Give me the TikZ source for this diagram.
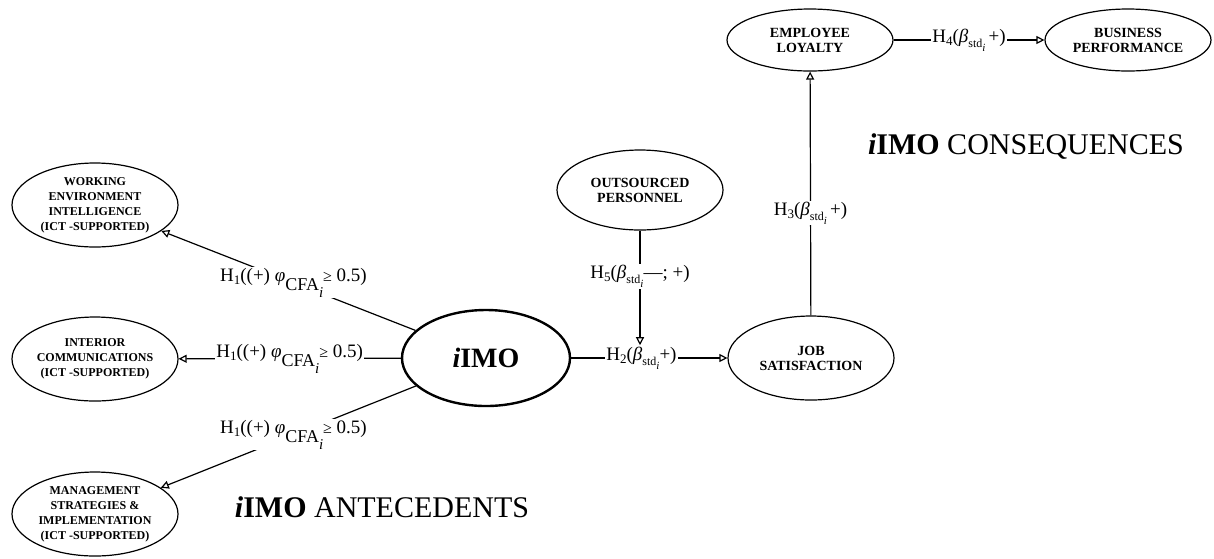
\documentclass[tikz,border=0pt]{standalone}
\usepackage{fontspec}
\setmainfont{Liberation Serif}
\usepackage{tikz}
\usetikzlibrary{shapes,arrows.meta}
\tikzstyle{line} = [draw, line width=1.2pt, -{Triangle[open,length=8pt,width=8pt]}]
\tikzstyle{construct} = [ellipse, draw, line width=1.2pt, minimum width=166pt,
                         minimum height=84pt, inner sep=0pt, align=center,
                         font=\fontsize{14}{15}\selectfont\bfseries]
\tikzstyle{antec} = [construct, font=\fontsize{12}{15}\selectfont\bfseries]
\tikzstyle{hyp} = [fill=white, inner sep=1pt, font=\fontsize{19}{21}\selectfont]
\tikzstyle{heading} = [font=\fontsize{30}{34}\selectfont]
\newcommand{\hsub}[1]{\raisebox{-3pt}{\fontsize{13}{13}\selectfont #1}}
\newcommand{\phicfa}{\textit{φ}\raisebox{-9pt}{\fontsize{18}{18}\selectfont CFA\raisebox{-7pt}{\fontsize{15}{15}\selectfont\textit{i}}}}
\newcommand{\bstd}{\textit{β}\raisebox{-5pt}{\fontsize{12}{12}\selectfont std\raisebox{-4pt}{\fontsize{11}{11}\selectfont\textit{i}}}}
\newcommand{\hone}{H\hsub{1}((+) \phicfa{\fontsize{16}{16}\selectfont≥} 0.5)}
\begin{document}
\begin{tikzpicture}[x=1pt, y=-1pt]
\useasboundingbox (0,0) rectangle (1214,558);
\node [construct, line width=2.4pt, minimum height=96pt, minimum width=168pt,
       font=\fontsize{28}{32}\selectfont\bfseries] (imo) at (486,358) {\textit{i}IMO};
\node [antec] (wei) at (95,205) {WORKING\\ENVIRONMENT\\INTELLIGENCE\\(ICT -SUPPORTED)};
\node [antec] (ic) at (95,359) {INTERIOR\\COMMUNICATIONS\\(ICT -SUPPORTED)};
\node [antec] (msi) at (95,514) {MANAGEMENT\\STRATEGIES \&\\IMPLEMENTATION\\(ICT -SUPPORTED)};
\node [construct, minimum height=80pt] (op) at (640,190) {OUTSOURCED\\PERSONNEL};
\node [construct] (js) at (811,358) {JOB\\SATISFACTION};
\node [construct, minimum height=62pt] (el) at (810,40) {EMPLOYEE\\LOYALTY};
\node [construct, minimum height=62pt] (bp) at (1128,40) {BUSINESS\\PERFORMANCE};

\path [line] (imo) -- node [hyp, pos=0.48] {\hone} (wei);
\path [line] (imo) -- node [hyp] {\hone} (ic);
\path [line] (imo) -- node [hyp, pos=0.48] {\hone} (msi);
\path [line] (imo) -- node [hyp, pos=0.45] (h2) {H\hsub{2}(\bstd+)} (js);
\path [line] (op) -- node [hyp, pos=0.4] {H\hsub{5}(\bstd—; +)} (op |- h2.north);
\path [line] (js) -- node [hyp, pos=0.42] {H\hsub{3}(\bstd\,+)} (el);
\path [line] (el) -- node [hyp] {H\hsub{4}(\bstd\,+)} (bp);

\node [heading] (ante) at (382,507) {\textbf{\textit{i}IMO} ANTECEDENTS};
\node [heading] (cons) at (1026,147) {\textbf{\textit{i}IMO} CONSEQUENCES};
\end{tikzpicture}
\end{document}
